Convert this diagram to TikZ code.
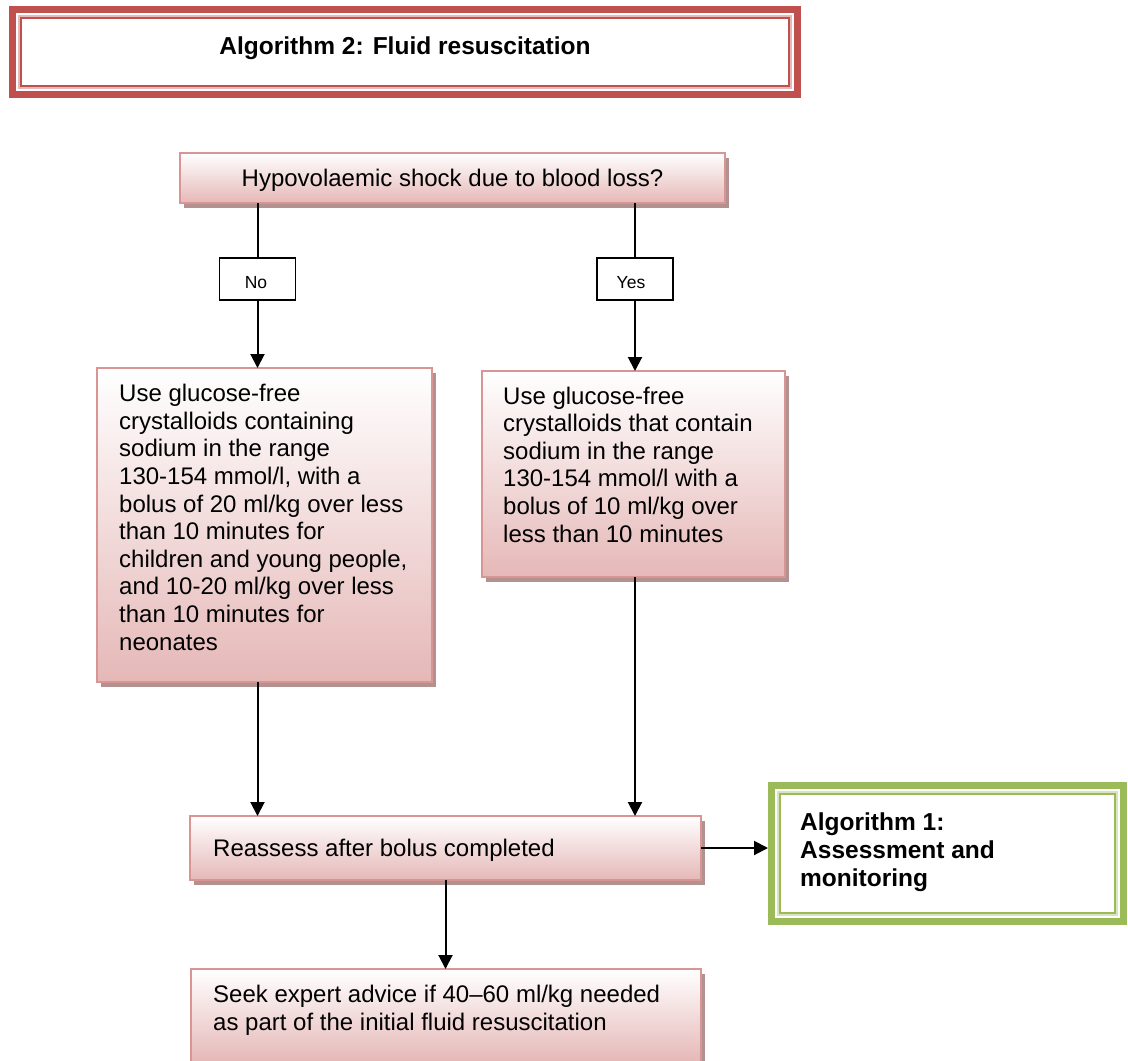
\documentclass[tikz,border=0pt]{standalone}
\usepackage{fontspec}
\setmainfont{Liberation Sans}
\usetikzlibrary{arrows.meta,shadows,calc}

\definecolor{framered}{HTML}{C0504D}
\definecolor{frameredlight}{HTML}{E6B9B8}
\definecolor{framegreen}{HTML}{9BBB59}
\definecolor{framegreenlight}{HTML}{D7E4BD}
\definecolor{boxedge}{HTML}{D99594}
\definecolor{boxfill}{HTML}{E5B8B7}
\definecolor{boxshadow}{HTML}{B39190}

\begin{document}
\begin{tikzpicture}[x=1pt,y=-1pt,
  flowbox/.style={draw=boxedge, line width=2pt, top color=white, bottom color=boxfill,
    inner sep=0pt, outer sep=0pt, anchor=north west,
    drop shadow={shadow xshift=4pt, shadow yshift=-5pt, fill=boxshadow, opacity=1}},
  labelbox/.style={draw=black, line width=1.5pt, fill=white, inner sep=0pt, outer sep=0pt,
    anchor=north west},
  framebox/.style={inner sep=0pt, outer sep=0pt, anchor=north west},
  body/.style={inner sep=0pt, anchor=base west, font=\fontsize{24}{27.6}\selectfont},
  boldbody/.style={inner sep=0pt, anchor=base west, font=\fontsize{24.5}{28.4}\selectfont\bfseries},
  small/.style={inner sep=0pt, anchor=base, font=\fontsize{17.5}{20}\selectfont},
  flow/.style={line width=2pt, -{Triangle[length=14pt,width=14pt]}},
  joinline/.style={line width=2pt},
]
\useasboundingbox[fill=white] (0,0) rectangle (1128,1061);

% ---- title panel with thick-thin red frame ----
\node[framebox, minimum width=792pt, minimum height=92pt] (title) at (9,6) {};
\draw[framered, line width=7pt] ($(title.north west)+(3.5,3.5)$) rectangle ($(title.south east)+(-3.5,-3.5)$);
\draw[frameredlight, line width=1.6pt] ($(title.north west)+(10.2,10.2)$) rectangle ($(title.south east)+(-10.2,-10.2)$);
\draw[framered, line width=2pt] ($(title.north west)+(12.2,12.2)$) rectangle ($(title.south east)+(-12.2,-12.2)$);
\node[boldbody, anchor=base] (titletext) at (405,54) {Algorithm 2: Fluid resuscitation};

% ---- question ----
\node[flowbox, minimum width=545pt, minimum height=50pt] (q) at (180,153) {};
\node[body, anchor=base] (qtext) at (452.5,186) {Hypovolaemic shock due to blood loss?};

% ---- answer labels ----
\node[labelbox, minimum width=76pt, minimum height=42pt] (no) at (219.5,258) {};
\node[small] (notext) at (256,288.5) {No};
\node[labelbox, minimum width=76pt, minimum height=42pt] (yes) at (597,258) {};
\node[small] (yestext) at (631,288.5) {Yes};

% ---- treatment boxes ----
\node[flowbox, minimum width=335pt, minimum height=314pt] (lbox) at (97,368) {};
\node[body] (ltext) at (119,401.7) {\parbox[t]{320pt}{\raggedright
  Use glucose-free\\
  crystalloids containing\\
  sodium in the range\\
  130-154 mmol/l, with a\\
  bolus of 20 ml/kg over less\\
  than 10 minutes for\\
  children and young people,\\
  and 10-20 ml/kg over less\\
  than 10 minutes for\\
  neonates}};

\node[flowbox, minimum width=303pt, minimum height=206pt] (rbox) at (482,371) {};
\node[body] (rtext) at (503,404) {\parbox[t]{290pt}{\raggedright
  Use glucose-free\\
  crystalloids that contain\\
  sodium in the range\\
  130-154 mmol/l with a\\
  bolus of 10 ml/kg over\\
  less than 10 minutes}};

% ---- reassessment and advice ----
\node[flowbox, minimum width=511pt, minimum height=64pt] (reass) at (190,816) {};
\node[body] (reasstext) at (213,856.5) {Reassess after bolus completed};

\node[flowbox, minimum width=510pt, minimum height=93pt] (seek) at (191,969) {};
\node[body] (seektext) at (213,1002.7) {\parbox[t]{480pt}{\raggedright
  Seek expert advice if 40–60 ml/kg needed\\
  as part of the initial fluid resuscitation}};

% ---- link to algorithm 1, green thick-thin frame ----
\node[framebox, minimum width=359pt, minimum height=143pt] (alg) at (768,782) {};
\draw[framegreen, line width=7pt] ($(alg.north west)+(3.5,3.5)$) rectangle ($(alg.south east)+(-3.5,-3.5)$);
\draw[framegreenlight, line width=1.6pt] ($(alg.north west)+(10.2,10.2)$) rectangle ($(alg.south east)+(-10.2,-10.2)$);
\draw[framegreen, line width=2pt] ($(alg.north west)+(12.2,12.2)$) rectangle ($(alg.south east)+(-12.2,-12.2)$);
\node[boldbody] (algtext) at (800,830) {\parbox[t]{300pt}{\raggedright
  Algorithm 1:\\
  Assessment and\\
  monitoring}};

% ---- connectors ----
\draw[joinline] (no.north |- q.south) -- (no.north);
\draw[joinline] (yes.north |- q.south) -- (yes.north);
\draw[flow] (no.south) -- (no.south |- lbox.north);
\draw[flow] (yes.south) -- (yes.south |- rbox.north);
\draw[flow] (no.south |- lbox.south) -- (no.south |- reass.north);
\draw[flow] (yes.south |- rbox.south) -- (yes.south |- reass.north);
\draw[flow] (reass.south) -- (reass.south |- seek.north);
\draw[flow] (reass.east) -- (reass.east -| alg.west);
\end{tikzpicture}
\end{document}
